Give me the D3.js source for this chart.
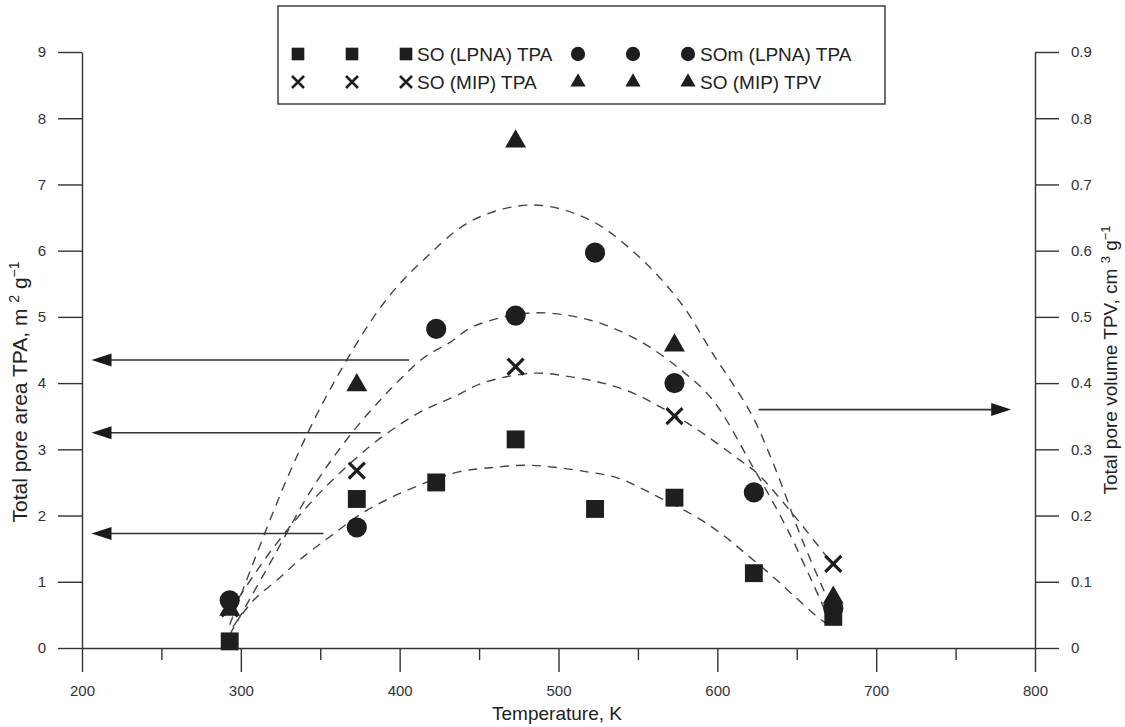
<!DOCTYPE html>
<html>
<head>
<meta charset="utf-8">
<script src="https://cdn.jsdelivr.net/npm/d3@7"></script>
<style>
  body { margin: 0; background: #fff; }
  text { font-family: "Liberation Sans", Arial, sans-serif; fill: #222; }
</style>
</head>
<body>
<div id="chart"></div>
<script>
// measured points, temperature in K
var sqTemp = [293, 373, 423, 473, 523, 573, 623, 673];
var sqTPA = [0.1, 2.25, 2.5, 3.15, 2.1, 2.27, 1.13, 0.47];

var cirTemp = [293, 373, 423, 473, 523, 573, 623, 673];
var cirTPA = [0.72, 1.82, 4.82, 5.02, 5.97, 4.0, 2.35, 0.6];

var crossTemp = [293, 373, 473, 573, 673];
var crossTPA = [0.6, 2.68, 4.25, 3.5, 1.27];

var triTemp = [293, 373, 473, 573, 673];
var triTPV = [0.058, 0.397, 0.765, 0.457, 0.076];

// dashed fit curves
var fitTpvT = [293, 330, 357, 390, 415, 446, 484, 520, 551, 577, 597, 621, 635, 654, 672];
var fitTpvV = [0.035, 0.261, 0.394, 0.521, 0.586, 0.646, 0.669, 0.646, 0.590, 0.521, 0.445, 0.355, 0.28, 0.16, 0.06];

var fitCirT = [293, 320, 346, 370, 388, 400, 415, 432, 446, 483, 520, 550, 577, 597, 622, 645, 670];
var fitCirV = [0.2, 1.35, 2.45, 3.25, 3.75, 4.05, 4.38, 4.62, 4.85, 5.06, 4.95, 4.65, 4.2, 3.75, 2.75, 1.75, 0.45];

var fitCrossT = [293, 320, 350, 381, 398, 415, 434, 452, 484, 509, 528, 547, 564, 581, 597, 614, 625, 650, 673];
var fitCrossV = [0.55, 1.5, 2.35, 3.04, 3.34, 3.59, 3.79, 4.0, 4.15, 4.09, 4.0, 3.85, 3.64, 3.40, 3.14, 2.84, 2.64, 1.95, 1.25];

var fitSqT = [295, 308, 323, 337, 356, 383, 434, 461, 480, 497, 518, 537, 563, 588, 605, 619, 634, 649, 663, 668];
var fitSqV = [0.32, 0.72, 1.03, 1.33, 1.68, 2.13, 2.64, 2.73, 2.76, 2.73, 2.66, 2.57, 2.28, 1.96, 1.68, 1.40, 1.10, 0.77, 0.47, 0.38];

// arrows: start temp, end temp, level, which axis
var arrowStart = [406, 388, 352, 626];
var arrowEnd = [206, 206, 206, 785];
var arrowLevel = [4.35, 3.25, 1.73, 0.36];
var arrowAxis = ["left", "left", "left", "right"];

var xTicks = [200, 300, 400, 500, 600, 700, 800];
var xMinor = [250, 350, 450, 550, 650, 750];
var yLeftTicks = [0, 1, 2, 3, 4, 5, 6, 7, 8, 9];
var yRightTicks = [0, 0.1, 0.2, 0.3, 0.4, 0.5, 0.6, 0.7, 0.8, 0.9];

var svg = d3.select("#chart").append("svg")
    .attr("width", 1125)
    .attr("height", 727);

var x = d3.scaleLinear().domain([200, 800]).range([82, 1035]);
var yL = d3.scaleLinear().domain([0, 9]).range([648, 52]);
var yR = d3.scaleLinear().domain([0, 0.9]).range([648, 52]);

//minor ticks on x axis
svg.append("g")
    .attr("transform", "translate(0,648)")
    .call(d3.axisBottom(x).tickValues(xMinor).tickSize(12).tickFormat(""))
    .call(g => g.select(".domain").remove());

//x axis
svg.append("g")
    .attr("class", "xaxis")
    .attr("transform", "translate(0,648)")
    .call(d3.axisBottom(x).tickValues(xTicks).tickSize(24).tickSizeOuter(0).tickPadding(13)
        .tickFormat(d3.format("d")));

//left y axis
svg.append("g")
    .attr("class", "yaxis")
    .attr("transform", "translate(82,0)")
    .call(d3.axisLeft(yL).tickValues(yLeftTicks).tickSize(24).tickSizeOuter(0).tickPadding(12)
        .tickFormat(d3.format("d")));

//right y axis
svg.append("g")
    .attr("class", "yaxis")
    .attr("transform", "translate(1035,0)")
    .call(d3.axisRight(yR).tickValues(yRightTicks).tickSize(24).tickSizeOuter(0).tickPadding(12)
        .tickFormat(d => d === 0 ? "0" : d3.format(".1f")(d)));

svg.selectAll(".domain, .tick line")
    .attr("stroke", "#333")
    .attr("stroke-width", 1.4);
svg.selectAll(".tick text")
    .style("font-size", "15px")
    .style("fill", "#333");
svg.selectAll(".xaxis .tick text")
    .style("font-family", "'Liberation Sans Narrow', 'Liberation Sans', sans-serif")
    .style("font-size", "15px");

//axis titles
svg.append("text")
    .attr("x", 557)
    .attr("y", 720)
    .attr("text-anchor", "middle")
    .style("font-family", "'Liberation Sans Narrow', 'Liberation Sans', sans-serif")
    .style("font-size", "19px")
    .text("Temperature, K");

var leftTitle = svg.append("text")
    .attr("transform", "translate(27,392) rotate(-90)")
    .attr("text-anchor", "middle")
    .style("font-size", "21px");
leftTitle.append("tspan").text("Total pore area TPA, m ");
leftTitle.append("tspan").attr("dy", -8).style("font-size", "14px").text("2");
leftTitle.append("tspan").attr("dy", 8).text(" g");
leftTitle.append("tspan").attr("dy", -8).style("font-size", "14px").text("\u22121");

var rightTitle = svg.append("text")
    .attr("transform", "translate(1117,360) rotate(-90)")
    .attr("text-anchor", "middle")
    .style("font-size", "19px");
rightTitle.append("tspan").text("Total pore volume TPV, cm ");
rightTitle.append("tspan").attr("dy", -7).style("font-size", "13px").text("3");
rightTitle.append("tspan").attr("dy", 7).text(" g");
rightTitle.append("tspan").attr("dy", -7).style("font-size", "13px").text("\u22121");

//dashed fit lines
var fits = [
    { t: fitTpvT, v: fitTpvV, y: yR },
    { t: fitCirT, v: fitCirV, y: yL },
    { t: fitCrossT, v: fitCrossV, y: yL },
    { t: fitSqT, v: fitSqV, y: yL }
];
fits.forEach(function(f) {
    var line = d3.line()
        .x((d, i) => x(f.t[i]))
        .y(d => f.y(d))
        .curve(d3.curveCatmullRom);
    svg.append("path")
        .attr("d", line(f.v))
        .attr("fill", "none")
        .attr("stroke", "#444")
        .attr("stroke-width", 1.4)
        .attr("stroke-dasharray", "9,7");
});

//arrows
arrowLevel.forEach(function(lv, i) {
    var yy = arrowAxis[i] === "left" ? yL(lv) : yR(lv);
    var x0 = x(arrowStart[i]), x1 = x(arrowEnd[i]);
    var dir = x1 > x0 ? 1 : -1;
    svg.append("line")
        .attr("x1", x0).attr("x2", x1 - dir * 10)
        .attr("y1", yy).attr("y2", yy)
        .attr("stroke", "#333")
        .attr("stroke-width", 1.6);
    svg.append("path")
        .attr("d", "M" + x1 + "," + yy + "L" + (x1 - dir * 20) + "," + (yy - 6.5) +
            "L" + (x1 - dir * 20) + "," + (yy + 6.5) + "Z")
        .attr("fill", "#1a1a1a");
});

//markers
var squareSym = d3.symbol().type(d3.symbolSquare).size(320);
var circleSym = d3.symbol().type(d3.symbolCircle).size(320);
var triSym = d3.symbol().type(d3.symbolTriangle).size(190);

function crossPath(s) {
    return "M" + (-s) + "," + (-s) + "L" + s + "," + s + "M" + (-s) + "," + s + "L" + s + "," + (-s);
}

svg.append("g").selectAll("path")
    .data(sqTPA)
    .enter()
    .append("path")
    .attr("d", squareSym())
    .attr("transform", (d, i) => "translate(" + x(sqTemp[i]) + "," + yL(d) + ")")
    .attr("fill", "#1e1e1e");

svg.append("g").selectAll("path")
    .data(cirTPA)
    .enter()
    .append("path")
    .attr("d", circleSym())
    .attr("transform", (d, i) => "translate(" + x(cirTemp[i]) + "," + yL(d) + ")")
    .attr("fill", "#1e1e1e");

svg.append("g").selectAll("path")
    .data(crossTPA)
    .enter()
    .append("path")
    .attr("d", crossPath(8))
    .attr("transform", (d, i) => "translate(" + x(crossTemp[i]) + "," + yL(d) + ")")
    .attr("stroke", "#1e1e1e")
    .attr("stroke-width", 3.2)
    .attr("fill", "none");

svg.append("g").selectAll("path")
    .data(triTPV)
    .enter()
    .append("path")
    .attr("d", triSym())
    .attr("transform", (d, i) => "translate(" + x(triTemp[i]) + "," + yR(d) + ")")
    .attr("fill", "#1e1e1e");

//legend
svg.append("rect")
    .attr("x", 278).attr("y", 6)
    .attr("width", 607).attr("height", 98)
    .attr("fill", "#fff")
    .attr("stroke", "#333")
    .attr("stroke-width", 1.4);

var legRow = [54, 82];
var legMarkX1 = [298, 352, 406];
var legMarkX2 = [578, 633, 688];
var legSq = d3.symbol().type(d3.symbolSquare).size(160)();
var legCir = d3.symbol().type(d3.symbolCircle).size(160)();
var legTri = d3.symbol().type(d3.symbolTriangle).size(100)();

legMarkX1.forEach(function(mx) {
    svg.append("path").attr("d", legSq).attr("transform", "translate(" + mx + "," + legRow[0] + ")").attr("fill", "#1e1e1e");
    svg.append("path").attr("d", crossPath(6)).attr("transform", "translate(" + mx + "," + legRow[1] + ")")
        .attr("stroke", "#1e1e1e").attr("stroke-width", 2.6).attr("fill", "none");
});
legMarkX2.forEach(function(mx) {
    svg.append("path").attr("d", legCir).attr("transform", "translate(" + mx + "," + legRow[0] + ")").attr("fill", "#1e1e1e");
    svg.append("path").attr("d", legTri).attr("transform", "translate(" + mx + "," + legRow[1] + ")").attr("fill", "#1e1e1e");
});

var legText = [["SO (LPNA) TPA", 417, legRow[0]], ["SOm (LPNA) TPA", 700, legRow[0]],
    ["SO (MIP) TPA", 417, legRow[1]], ["SO (MIP) TPV", 700, legRow[1]]];
legText.forEach(function(l) {
    svg.append("text")
        .attr("x", l[1]).attr("y", l[2])
        .attr("dy", "0.35em")
        .style("font-size", "19px")
        .text(l[0]);
});
</script>
</body>
</html>
